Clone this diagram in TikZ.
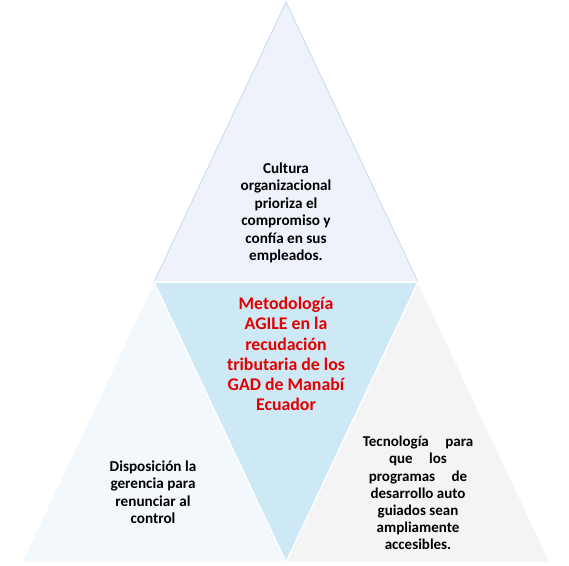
\documentclass[tikz,border=0pt]{standalone}
\usepackage{fontspec}
\setmainfont{Carlito}
\tikzset{
  tri/.style={color=white,line width=1.2pt},
  txt/.style={font=\bfseries\fontsize{15.2}{17.5}\selectfont,align=center,inner sep=0pt},
}
\begin{document}
\begin{tikzpicture}[x=1pt,y=-1pt]
  % colors
  \definecolor{kTop}{RGB}{238,242,250}
  \definecolor{kTopLine}{RGB}{200,218,240}
  \definecolor{kCenter}{RGB}{205,233,246}
  \definecolor{kLeft}{RGB}{243,248,252}
  \definecolor{kRight}{RGB}{244,244,244}
  \definecolor{kRed}{RGB}{226,0,0}
  % frame
  \useasboundingbox (0,0) rectangle (569,565);
  % corners
  \coordinate (apex) at (286,2);
  \coordinate (ml) at (154,282);
  \coordinate (mr) at (418,282);
  \coordinate (bl) at (22,562);
  \coordinate (bm) at (286,562);
  \coordinate (br) at (550,562);
  % triangles
  \draw[tri,fill=kLeft] (ml) -- (bm) -- (bl) -- cycle;
  \draw[tri,fill=kRight] (mr) -- (br) -- (bm) -- cycle;
  \draw[tri,fill=kCenter] (ml) -- (mr) -- (bm) -- cycle;
  \draw[tri,color=kTopLine,line width=0.8pt,fill=kTop] (apex) -- (mr) -- (ml) -- cycle;
  \draw[tri] (ml) -- (mr);

  % texts
  \node[txt] (cultura) at (286,213)
    {Cultura\\organizacional\\prioriza el\\compromiso y\\confía en sus\\empleados.};
  \node[txt,color=kRed,font=\bfseries\fontsize{17.8}{20.2}\selectfont] (agile) at (286,354)
    {Metodología\\AGILE en la\\recudación\\tributaria de los\\GAD de Manabí\\Ecuador};
  \node[txt] (gerencia) at (153,492)
    {Disposición la\\gerencia para\\renunciar al\\control};
  \node[txt,font=\bfseries\fontsize{15}{17.2}\selectfont] (tecnologia) at (418,493)
    {Tecnología\hspace{1.1em}para\\que\hspace{1.1em}los\\programas\hspace{1.1em}de\\desarrollo auto\\guiados sean\\ampliamente\\accesibles.};
\end{tikzpicture}
\end{document}
